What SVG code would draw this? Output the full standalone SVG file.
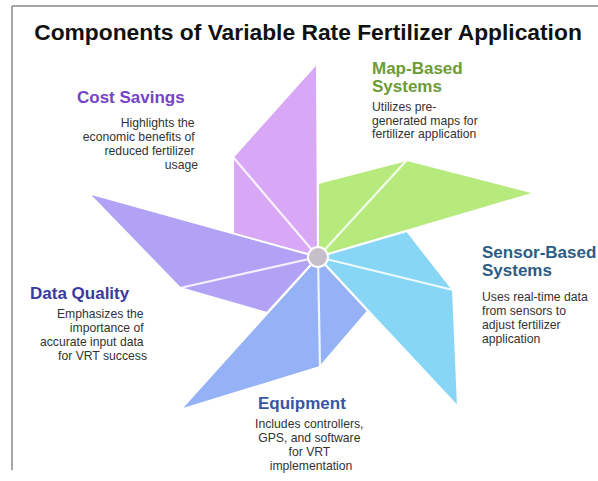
<svg xmlns="http://www.w3.org/2000/svg" width="598" height="481" viewBox="0 0 598 481">
<style>
.t{font-family:"Liberation Sans",Arial,sans-serif;}
.h{font-weight:bold;font-size:17px;}
.d{font-size:12.2px;fill:#333333;}
.blade{stroke:#ffffff;stroke-width:2;stroke-linejoin:round;}
.div{stroke:#ffffff;stroke-width:2.2;stroke-opacity:0.85;}
</style>
<rect x="0" y="0" width="598" height="481" fill="#ffffff"/>
<g id="frame" stroke="#888888" stroke-width="1.5" fill="none">
<line x1="12" y1="6" x2="598" y2="6"/>
<line x1="12" y1="6" x2="12" y2="470"/>
</g>
<text class="t" x="308" y="40" text-anchor="middle" font-size="22.8" font-weight="bold" fill="#111111">Components of Variable Rate Fertilizer Application</text>
<g id="connectors">
<g id="blade-cost">
<polygon class="blade" fill="#d8a8f6" points="318,257 317,63 233,157 233,234"/>
<line class="div" x1="318" y1="257" x2="233" y2="157"/>
</g>
<g id="blade-map">
<polygon class="blade" fill="#b6ea7c" points="318,257 535,193 407,160 318,183"/>
<line class="div" x1="318" y1="257" x2="407" y2="160"/>
</g>
<g id="blade-sensor">
<polygon class="blade" fill="#88d6f6" points="318,257 458,407 453,290 407,231"/>
<line class="div" x1="318" y1="257" x2="453" y2="290"/>
</g>
<g id="blade-equipment">
<polygon class="blade" fill="#96b2f6" points="318,257 180,410 320,367 368,311"/>
<line class="div" x1="318" y1="257" x2="320" y2="367"/>
</g>
<g id="blade-data">
<polygon class="blade" fill="#b2a2f6" points="318,257 88,193 180,288 267,313"/>
<line class="div" x1="318" y1="257" x2="180" y2="288"/>
</g>
</g>
<g id="center">
<circle cx="318" cy="257" r="10" fill="#c6bfca" stroke="#ffffff" stroke-width="2"/>
</g>
<g id="node-cost" class="t">
<text class="h" x="77" y="103" fill="#7444c4">Cost Savings</text>
<text class="d" text-anchor="end">
<tspan x="198" y="127">Highlights the</tspan>
<tspan x="198" y="141">economic benefits of</tspan>
<tspan x="198" y="155">reduced fertilizer</tspan>
<tspan x="198" y="169">usage</tspan>
</text>
</g>
<g id="node-map" class="t">
<text class="h" fill="#6c9c36"><tspan x="372" y="74">Map-Based</tspan><tspan x="372" y="92">Systems</tspan></text>
<text class="d">
<tspan x="372" y="111">Utilizes pre-</tspan>
<tspan x="372" y="124.5">generated maps for</tspan>
<tspan x="372" y="138">fertilizer application</tspan>
</text>
</g>
<g id="node-sensor" class="t">
<text class="h" fill="#2c5c84"><tspan x="482" y="258">Sensor-Based</tspan><tspan x="482" y="276">Systems</tspan></text>
<text class="d">
<tspan x="482" y="301">Uses real-time data</tspan>
<tspan x="482" y="315">from sensors to</tspan>
<tspan x="482" y="329">adjust fertilizer</tspan>
<tspan x="482" y="343">application</tspan>
</text>
</g>
<g id="node-equipment" class="t">
<text class="h" x="258" y="409" fill="#3656a6">Equipment</text>
<text class="d" text-anchor="middle">
<tspan x="311" y="427.5">Includes controllers,</tspan>
<tspan x="311" y="441.5">GPS, and software</tspan>
<tspan x="311" y="455.5">for VRT</tspan>
<tspan x="311" y="469.5">implementation</tspan>
</text>
</g>
<g id="node-data" class="t">
<text class="h" x="30" y="299" fill="#3a3a9c">Data Quality</text>
<text class="d" text-anchor="end">
<tspan x="147" y="318">Emphasizes the</tspan>
<tspan x="147" y="332">importance of</tspan>
<tspan x="147" y="346">accurate input data</tspan>
<tspan x="147" y="360">for VRT success</tspan>
</text>
</g>
</svg>
